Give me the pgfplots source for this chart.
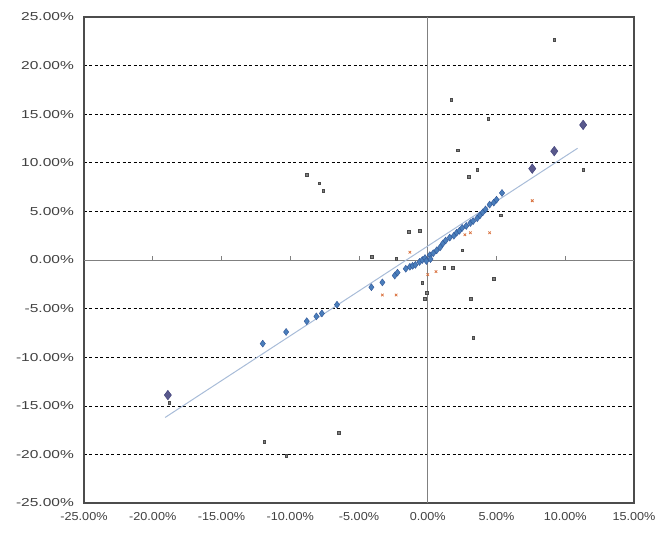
\documentclass[border=0pt]{standalone}
\usepackage{pgfplots}
\pgfplotsset{compat=1.18}
\usepackage{fontspec}
\setmainfont{Liberation Sans}
\definecolor{bluem}{HTML}{4A7EBB}
\definecolor{bluemd}{HTML}{2F5597}
\definecolor{navym}{HTML}{3C3C78}
\definecolor{orangem}{HTML}{D9703C}
\definecolor{greym}{HTML}{4A4A4A}
\definecolor{trendc}{HTML}{A8BCD8}
\begin{document}
\begin{tikzpicture}
\begin{axis}[
  scale only axis, width=550pt, height=486pt,
  xmin=-25, xmax=15, ymin=-25, ymax=25,
  xtick={-25,-20,...,15}, ytick={-25,-20,...,25},
  xticklabels={-25.00\%,-20.00\%,-15.00\%,-10.00\%,-5.00\%,0.00\%,5.00\%,10.00\%,15.00\%},
  yticklabels={-25.00\%,-20.00\%,-15.00\%,-10.00\%,-5.00\%,0.00\%,5.00\%,10.00\%,15.00\%,20.00\%,25.00\%},
  major tick length=0pt,
  tick label style={font=\fontsize{11.5}{13}\selectfont, text=black!75},
  xticklabel style={xscale=1.1, yshift=-6pt},
  yticklabel style={xscale=1.35, xshift=-4pt},
  ymajorgrids,
  grid style={black, line width=0.6pt, dash pattern=on 3pt off 2.5pt},
  axis line style={gray!60!black, line width=1.3pt},
]
\draw[gray, line width=0.9pt] (axis cs:-25,0) -- (axis cs:15,0);
\draw[gray, line width=0.9pt] (axis cs:0,-25) -- (axis cs:0,25);
\pgfplotsinvokeforeach{-20,-15,-10,-5,5,10}{\draw[gray, line width=0.8pt] (axis cs:#1,0) -- (axis cs:#1,0.45);}
% trend line
\addplot[trendc, line width=1pt] coordinates {(-19.1,-16.2) (10.9,11.5)};
% grey small markers
\addplot[only marks, mark=square*, mark size=1.4pt, greym, mark options={fill=greym!70}] coordinates {
(9.2,22.7) (1.7,16.5) (4.4,14.5) (2.2,11.3) (3.6,9.3) (3.0,8.6) (11.3,9.3)
(5.3,4.6) (2.5,1.0) (-1.4,2.9) (-0.6,3.0) (-4.1,0.3) (-2.3,0.1)
(-8.8,8.8) (-7.9,7.9) (-7.6,7.1) (-0.4,-2.3) (-0.1,-3.4) (-0.2,-4.0)
(4.8,-1.9) (3.1,-4.0) (3.3,-8.0) (-6.5,-17.8) (-11.9,-18.7) (-10.3,-20.1)
(-18.8,-14.7) (1.2,-0.8) (1.8,-0.8)
};
% orange small markers
\addplot[only marks, mark=x, mark size=1.8pt, orangem, line width=0.8pt] coordinates {
(7.6,6.1) (4.5,2.8) (3.1,2.8) (-1.3,0.8) (0.6,-1.2) (0.0,-1.5)
(-3.3,-3.6) (-2.3,-3.6) (2.7,2.6)
};
% blue diamonds
\addplot[only marks, mark=diamond*, mark size=3.5pt, bluemd, mark options={fill=bluem}] coordinates {
(-12.0,-8.6) (-10.3,-7.4) (-8.8,-6.3) (-8.1,-5.8) (-7.7,-5.5) (-6.6,-4.6)
(-4.1,-2.8) (-3.3,-2.3) (-2.4,-1.6) (-2.2,-1.3) (-1.6,-0.9) (-1.3,-0.7) (-1.1,-0.6)
(-0.9,-0.5) (-0.6,-0.2) (-0.4,0.0) (-0.2,0.2) (-0.1,-0.1) (0.15,0.5) (0.2,0.1)
(0.4,0.7) (0.65,1.0) (0.9,1.3) (1.1,1.7) (1.3,2.0) (1.6,2.3) (1.9,2.5)
(2.1,2.8) (2.3,3.0) (2.5,3.3) (2.8,3.5) (3.1,3.8) (3.3,4.0) (3.6,4.3)
(3.8,4.6) (4.0,4.9) (4.2,5.2) (4.5,5.7) (4.8,5.9) (5.0,6.2) (5.4,6.9)
};
% large dark diamonds
\addplot[only marks, mark=diamond*, mark size=4.8pt, navym, mark options={fill=navym!85}] coordinates {
(-18.9,-13.9) (7.6,9.4) (9.2,11.2) (11.3,13.9)
};
\end{axis}
\path (current axis.south west) ++(-84pt,-30pt) (current axis.north east) ++(26pt,17pt);
\end{tikzpicture}
\end{document}
